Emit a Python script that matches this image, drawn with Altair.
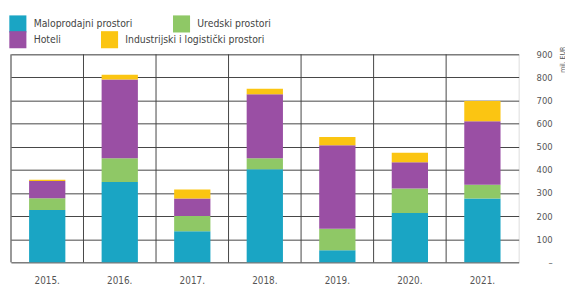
import altair as alt
import pandas as pd

years = ["2015.", "2016.", "2017.", "2018.", "2019.", "2020.", "2021."]
series = ["Maloprodajni prostori", "Uredski prostori", "Hoteli", "Industrijski i logistički prostori"]
colors = ["#1aa5c4", "#8fc866", "#9a4fa4", "#fbc512"]
maloprodajni = [227, 348, 135, 403, 52, 213, 276]
uredski = [50, 102, 66, 47, 93, 106, 60]
hoteli = [75, 341, 75, 277, 362, 114, 274]
industrijski = [5, 21, 39, 24, 35, 41, 88]

rows = []
for s_i, (name, vals) in enumerate(zip(series, [maloprodajni, uredski, hoteli, industrijski])):
    for y, v in zip(years, vals):
        rows.append({"godina": y, "vrsta": name, "iznos": v, "red": s_i})
df = pd.DataFrame(rows)
ydf = pd.DataFrame({"godina": years})

FONT = "DejaVu Sans Condensed, Liberation Sans Narrow, sans-serif"
W, H = 515, 211
STEP = W / len(years)

xscale = alt.Scale(domain=years, paddingInner=0, paddingOuter=0)
xaxis = alt.Axis(title=None, labelAngle=0, ticks=False, domain=False, grid=False,
                 labelPadding=13, labelFontSize=10, labelColor="#555", labelFont=FONT)
yaxis = alt.Axis(orient="right", values=list(range(0, 1000, 100)), ticks=False, tickSize=0,
                 domain=False, grid=True, gridColor="#444", gridWidth=1,
                 labelAlign="right", labelPadding=34, labelFontSize=9.5,
                 labelColor="#555", labelFont=FONT,
                 labelExpr="datum.value == 0 ? '–' : datum.label",
                 title="mil. EUR", titleAngle=270, titleX=44, titleY=5,
                 titleAlign="center", titleBaseline="middle",
                 titleFontSize=7, titleFontWeight="normal", titleColor="#555",
                 titleFont=FONT)
yscale = alt.Scale(domain=[0, 900], nice=False)


def legend(y):
    return alt.Legend(title=None, orient="none", legendX=-2, legendY=y,
                      direction="horizontal", columnPadding=40,
                      symbolType="square", symbolSize=300,
                      symbolStrokeWidth=0, symbolOpacity=1, labelOffset=7,
                      labelFontSize=10.5, labelColor="#444", labelFont=FONT,
                      padding=0)


base = alt.Chart(df).transform_stack(
    stack="iznos", groupby=["godina"], as_=["y0", "y1"],
    sort=[alt.SortField("red", order="ascending")],
)

row1 = [series[0], series[1]]
row2 = [series[2], series[3]]

bars1 = base.transform_filter(alt.FieldOneOfPredicate(field="vrsta", oneOf=row1)).mark_bar(
    width={"band": 0.5}).encode(
    x=alt.X("godina:N", scale=xscale, sort=years, axis=xaxis),
    y=alt.Y("y0:Q", scale=yscale, axis=yaxis),
    y2="y1:Q",
    color=alt.Color("vrsta:N", scale=alt.Scale(domain=row1, range=colors[:2]), legend=legend(-40)),
)

bars2 = base.transform_filter(alt.FieldOneOfPredicate(field="vrsta", oneOf=row2)).mark_bar(
    width={"band": 0.5}).encode(
    x=alt.X("godina:N", scale=xscale, sort=years, axis=xaxis),
    y=alt.Y("y0:Q", scale=yscale, axis=yaxis),
    y2="y1:Q",
    fill=alt.Fill("vrsta:N", scale=alt.Scale(domain=row2, range=colors[2:]), legend=legend(-24)),
)

vlines = alt.Chart(ydf).mark_rule(color="#444", strokeWidth=1, xOffset=-STEP / 2).encode(
    x=alt.X("godina:N", scale=xscale, sort=years, axis=xaxis),
)

chart = alt.layer(vlines, bars1, bars2).properties(
    width=W, height=H,
    autosize=alt.AutoSizeParams(type="none"),
    padding={"left": 3, "top": 45, "right": 47, "bottom": 23},
).configure_view(stroke="#333", strokeWidth=1.5).configure(background="white")

chart.save("out.html", embed_options={"renderer": "svg", "actions": False})
